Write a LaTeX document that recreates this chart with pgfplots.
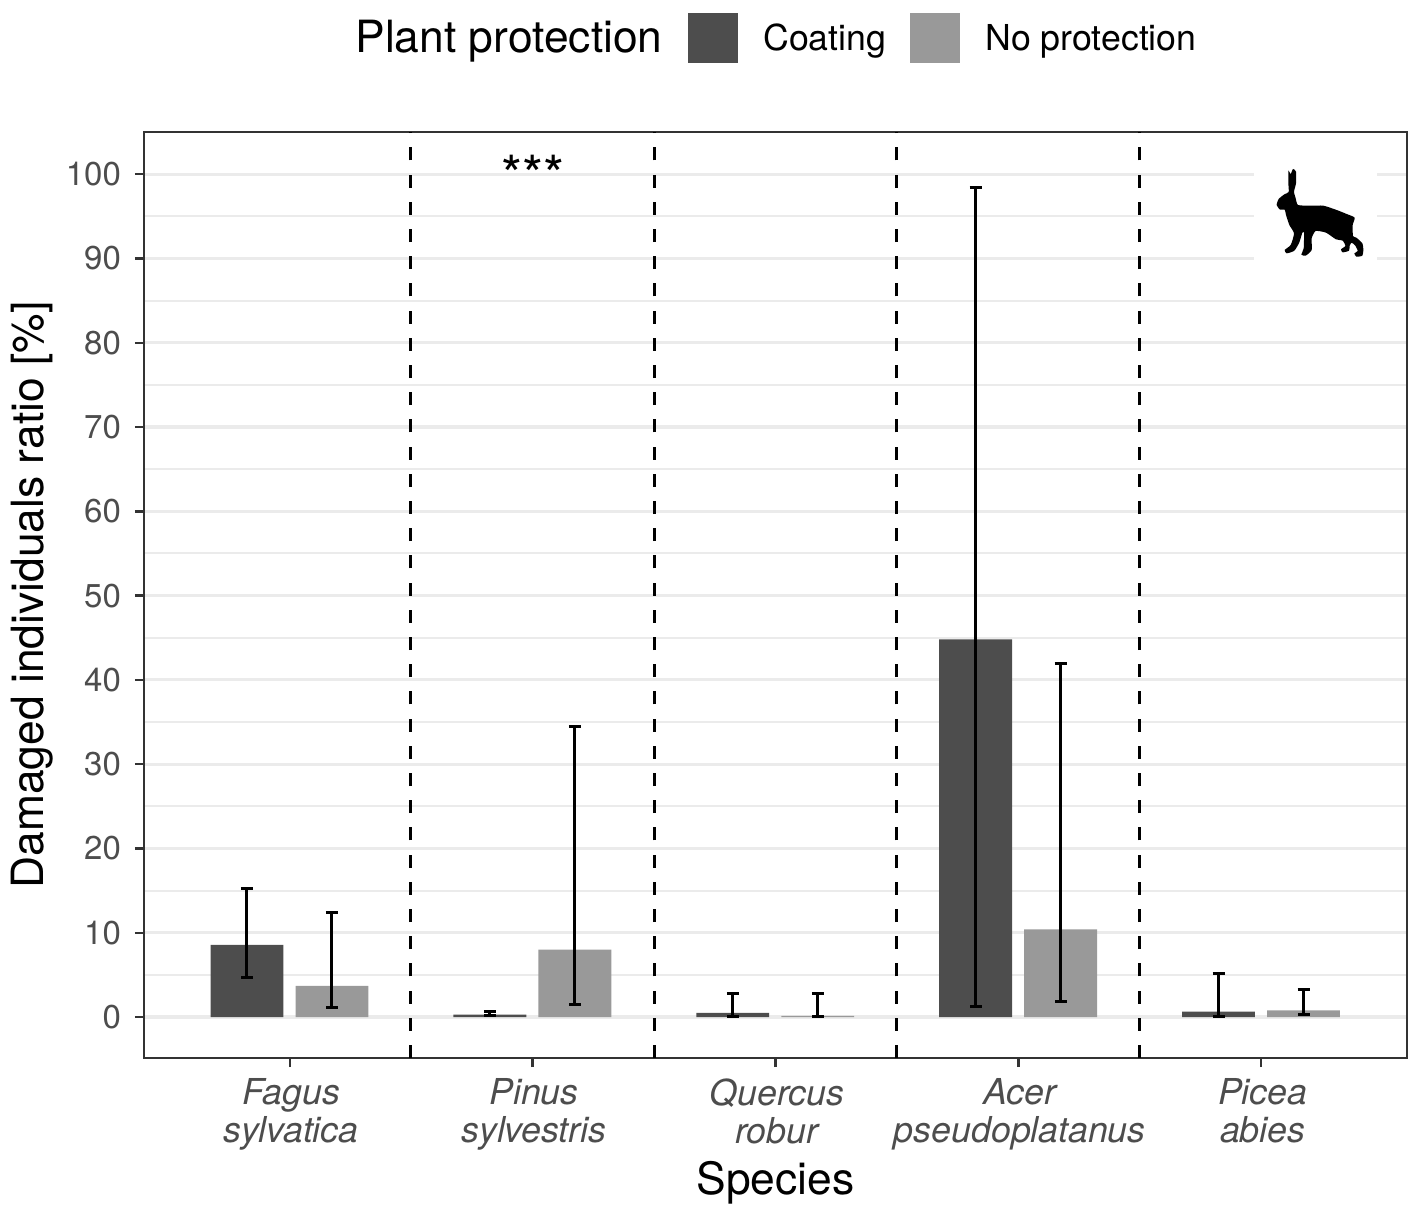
\documentclass[border=0pt]{standalone}
\usepackage{fontspec}
\setmainfont{TeX Gyre Heros}
\usepackage{pgfplots}
\usepackage{pgfplotstable}
\pgfplotsset{compat=1.18}
\definecolor{coat}{HTML}{4D4D4D}
\definecolor{noprot}{HTML}{999999}
\definecolor{gridc}{HTML}{EBEBEB}
\definecolor{framec}{HTML}{333333}
\definecolor{ticktxt}{HTML}{4D4D4D}

% x y lo hi
\pgfplotstableread{
x y lo hi
0 8.55 4.75 15.2
1 0.30 0.15 0.70
2 0.50 0.10 2.85
3 44.8 1.20 98.4
4 0.65 0.10 5.20
}\coating
\pgfplotstableread{
x y lo hi
0 3.70 1.10 12.4
1 8.00 1.45 34.5
2 0.15 0.05 2.80
3 10.4 1.90 41.9
4 0.80 0.25 3.30
}\noprotection

\begin{document}
\begin{tikzpicture}
% 1 px of the reference = 0.5pt, origin top left
\useasboundingbox (0pt,0pt) rectangle (709pt,-607pt);
\begin{axis}[
  at={(72pt,-529pt)}, anchor=south west, scale only axis,
  width=631.5pt, height=463pt,
  xmin=-0.6, xmax=4.6, ymin=-4.86, ymax=105,
  ybar, bar width=0.3,
  xtick={0,1,2,3,4},
  xticklabels={{Fagus\\sylvatica},{Pinus\\sylvestris},{Quercus\\robur},{Acer\\pseudoplatanus},{Picea\\abies}},
  xticklabel style={font=\fontsize{17.85}{19}\selectfont\itshape,color=ticktxt,align=center,yshift=-2.4pt,xshift=0.7pt},
  ytick={0,10,...,100}, minor y tick num=1,
  yticklabel style={font=\fontsize{16.5}{20}\selectfont,color=ticktxt,xshift=-3.5pt,
    /pgf/number format/assume math mode=true},
  tick align=outside, xtick pos=bottom, ytick pos=left,
  major tick length=4.5pt, minor tick length=0pt,
  tick style={draw=framec,line width=1.2pt},
  axis line style={draw=framec,line width=1.3pt},
  ymajorgrids, yminorgrids,
  major grid style={draw=gridc,line width=1.6pt},
  minor grid style={draw=gridc,line width=1pt},
  xlabel={Species}, ylabel={Damaged individuals ratio [\%]},
  xlabel style={font=\fontsize{22.2}{26}\selectfont,at={(axis description cs:0.5,-0.1344)},anchor=center},
  ylabel style={font=\fontsize{22.2}{26}\selectfont,at={(axis description cs:-0.0889,0.5)},anchor=center,rotate=0},
  legend style={at={(axis description cs:0.431,1.1020)},anchor=west,draw=none,fill=none,
    legend columns=2,font=\fontsize{17.85}{20}\selectfont,inner sep=0pt,outer sep=0pt,
    /tikz/every even column/.append style={column sep=10pt},
    /tikz/every odd column/.append style={column sep=10.5pt}},
  legend cell align=left,
  legend image code/.code={\fill[#1] (0pt,-12.5pt) rectangle (25pt,12.5pt);},
  error bars/y dir=both, error bars/y explicit,
  error bars/error bar style={black,line width=1.5pt},
  error bars/error mark options={rotate=90,black,mark size=3pt,line width=1.5pt},
]
\addplot[fill=coat,draw=none,bar shift=-0.176] table[x=x,y=y,
  y error plus expr=\thisrow{hi}-\thisrow{y},y error minus expr=\thisrow{y}-\thisrow{lo}] {\coating};
\addplot[fill=noprot,draw=none,bar shift=0.174] table[x=x,y=y,
  y error plus expr=\thisrow{hi}-\thisrow{y},y error minus expr=\thisrow{y}-\thisrow{lo}] {\noprotection};
\legend{\raisebox{-1pt}{Coating},\raisebox{-1pt}{No protection}}
\pgfplotsinvokeforeach{0.496,1.5,2.5,3.5}{
  \draw[black,line width=1.5pt,dash pattern=on 6.5pt off 7.1pt] (axis cs:#1,-4.86) -- (axis cs:#1,105);
}
\node[font=\fontsize{27}{27}\selectfont] at (axis cs:1,99.9) {***};
\end{axis}
\node[anchor=base west,font=\fontsize{22.2}{26}\selectfont,inner sep=0pt] at (177.5pt,-26.5pt) {Plant protection};
% hare icon, traced at 3x from the upper right corner
\fill[white] (627pt,-78.5pt) rectangle (688.5pt,-135pt);
\begin{scope}[shift={(620pt,-75pt)},x=0.16667pt,y=-0.16667pt]
\fill[black] plot[smooth cycle,tension=0.35] coordinates {
 (145,62)(152,72)(159,57)(168,65)(168,100)(162,125)(167,145)(174,165)(210,167)(250,167)
 (290,180)(320,192)(344,203)(338,225)(339,258)(349,263)(367,280)(370,300)(367,317)(349,320)
 (343,310)(353,303)(346,287)(335,278)(329,287)(327,302)(308,307)(303,298)(316,288)(308,272)
 (288,268)(258,248)(227,243)(215,265)(215,300)(197,317)(184,314)(191,295)(192,248)(187,248)
 (178,277)(163,302)(140,310)(134,300)(152,285)(162,250)(148,225)(138,195)(134,179)(120,179)
 (110,165)(116,147)(133,133)(146,126)(145,100)};
\end{scope}
\end{tikzpicture}
\end{document}
